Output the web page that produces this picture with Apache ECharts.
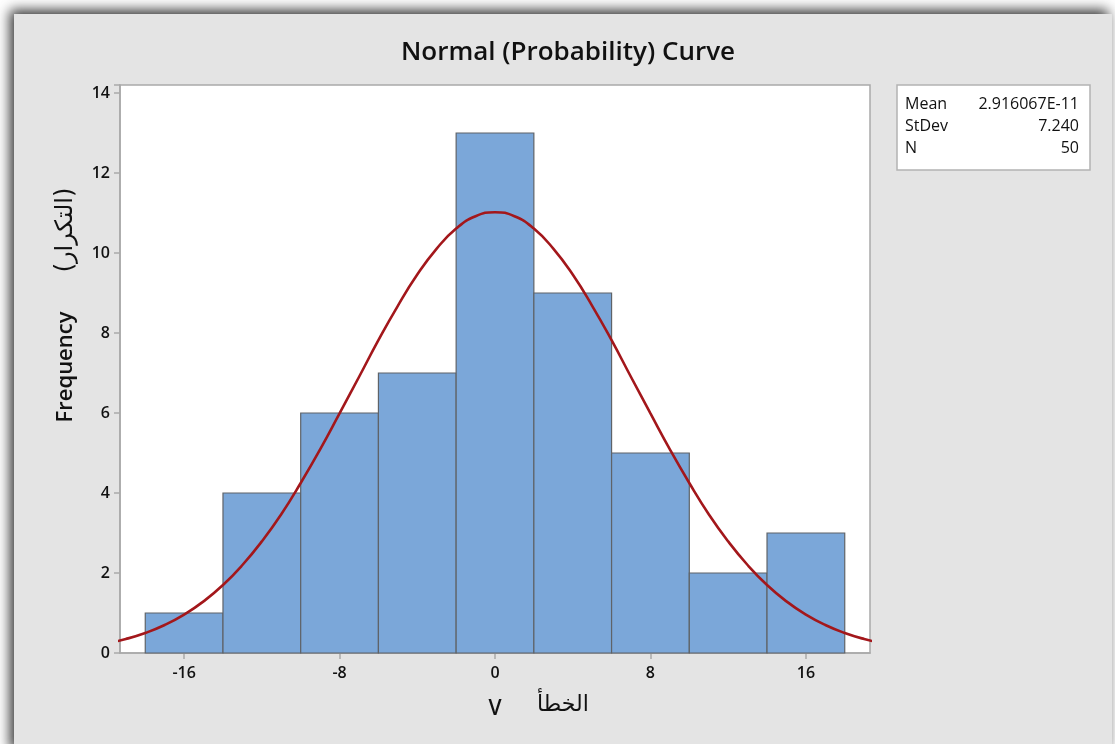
<!DOCTYPE html>
<html>
<head>
<meta charset="utf-8">
<script src="https://cdn.jsdelivr.net/npm/echarts@6/dist/echarts.min.js"></script>
<style>
  html, body { margin: 0; padding: 0; background: #ffffff; }
  #chart { width: 1115px; height: 744px; }
</style>
</head>
<body>
<div id="chart"></div>
<script>
// Histogram bins (centre of each bin, width 4) and their frequencies
const binCenters = [-16, -12, -8, -4, 0, 4, 8, 12, 16];
const binCounts = [1, 4, 6, 7, 13, 9, 5, 2, 3];
const binWidth = 4;

// Fitted normal curve, sampled at whole units of V
const curveX = [-20, -19, -18, -17, -16, -15, -14, -13, -12, -11, -10, -9, -8, -7, -6, -5, -4, -3, -2, -1,
  0, 1, 2, 3, 4, 5, 6, 7, 8, 9, 10, 11, 12, 13, 14, 15, 16, 17, 18, 19, 20];
const curveY = [0.24, 0.35, 0.50, 0.70, 0.96, 1.29, 1.70, 2.20, 2.79, 3.47, 4.25, 5.09, 5.99, 6.90, 7.82, 8.68, 9.46, 10.11, 10.61, 10.92,
  11.02, 10.92, 10.61, 10.11, 9.46, 8.68, 7.82, 6.90, 5.99, 5.09, 4.25, 3.47, 2.79, 2.20, 1.70, 1.29, 0.96, 0.70, 0.50, 0.35, 0.24];

// Axis tick labels
const xTicks = [-16, -8, 0, 8, 16];
const yTicks = [0, 2, 4, 6, 8, 10, 12, 14];

// Summary statistics box
const statNames = ['Mean', 'StDev', 'N'];
const statValues = ['2.916067E-11', '7.240', '50'];

const FONT = '"Open Sans", "Noto Sans", sans-serif';
const TXT = '#111111';
const FRAME = '#a9a9a9';

const chart = echarts.init(document.getElementById('chart'), null, { renderer: 'canvas' });

const histData = binCenters.map((c, i) => [c - binWidth / 2, c + binWidth / 2, binCounts[i]]);
const curveData = curveX.map((x, i) => [x, curveY[i]]);

const statGraphics = [];
statNames.forEach((n, i) => {
  statGraphics.push({
    type: 'text', x: 905, y: 104 + i * 22, z: 10,
    style: { text: n, font: '500 16px ' + FONT, fill: TXT, textVerticalAlign: 'middle' }
  });
  statGraphics.push({
    type: 'text', x: 1079, y: 104 + i * 22, z: 10,
    style: { text: statValues[i], font: '500 16px ' + FONT, fill: TXT, textAlign: 'right', textVerticalAlign: 'middle' }
  });
});

chart.setOption({
  animation: false,
  backgroundColor: '#ffffff',
  title: {
    text: 'Normal (Probability) Curve',
    left: 563, top: 35, textAlign: 'center',
    textStyle: { fontFamily: FONT, fontSize: 26, fontWeight: 600, color: TXT }
  },
  grid: {
    left: 120, top: 85, width: 750, height: 568,
    show: true, backgroundColor: '#ffffff', borderColor: FRAME, borderWidth: 1.5
  },
  xAxis: {
    type: 'value', min: -19.3, max: 19.3,
    axisLine: { show: true, onZero: false, lineStyle: { color: FRAME, width: 1.5 } },
    splitLine: { show: false },
    axisTick: { show: true, customValues: xTicks, length: 6, lineStyle: { color: FRAME, width: 1.5 } },
    axisLabel: { customValues: xTicks, margin: 12, fontFamily: FONT, fontSize: 16, fontWeight: 600, color: TXT }
  },
  yAxis: {
    type: 'value', min: 0, max: 14.2, interval: 2,
    axisLine: { show: true, onZero: false, lineStyle: { color: FRAME, width: 1.5 } },
    splitLine: { show: false },
    axisTick: { show: true, length: 6, lineStyle: { color: FRAME, width: 1.5 } },
    axisLabel: {
      margin: 10, fontFamily: FONT, fontSize: 16, fontWeight: 600, color: TXT,
      formatter: v => (yTicks.indexOf(v) >= 0 ? String(v) : '')
    }
  },
  graphic: [
    {
      type: 'rect', z: -10, silent: true,
      shape: { x: 14, y: 14, width: 1098, height: 740 },
      style: { fill: '#e4e4e4', shadowBlur: 12, shadowColor: 'rgba(0,0,0,0.8)', shadowOffsetX: -4, shadowOffsetY: -4 }
    },
    {
      type: 'rect', z: 5, silent: true,
      shape: { x: 897, y: 85, width: 193, height: 85 },
      style: { fill: '#ffffff', stroke: '#b3b3b3', lineWidth: 1.5 }
    },
    ...statGraphics,
    {
      type: 'text', x: 66, y: 367, rotation: Math.PI / 2, z: 10,
      style: { text: 'Frequency', font: '600 22px ' + FONT, fill: TXT, textAlign: 'center', textVerticalAlign: 'middle' }
    },
    {
      type: 'text', x: 66, y: 230, rotation: Math.PI / 2, z: 10,
      style: { text: '(التكرار)', font: '24px "DejaVu Sans", sans-serif', fill: TXT, textAlign: 'center', textVerticalAlign: 'middle' }
    },
    {
      type: 'text', x: 495, y: 709, z: 10,
      style: { text: 'V', font: '600 21px ' + FONT, fill: TXT, textAlign: 'center', textVerticalAlign: 'middle' }
    },
    {
      type: 'text', x: 563, y: 705, z: 10,
      style: { text: 'الخطأ', font: '22px "DejaVu Sans", sans-serif', fill: TXT, textAlign: 'center', textVerticalAlign: 'middle' }
    }
  ],
  series: [
    {
      type: 'custom',
      data: histData,
      encode: { x: [0, 1], y: 2 },
      renderItem: function (params, api) {
        const p0 = api.coord([api.value(0), api.value(2)]);
        const p1 = api.coord([api.value(1), 0]);
        return {
          type: 'rect',
          shape: { x: p0[0], y: p0[1], width: p1[0] - p0[0], height: p1[1] - p0[1] },
          style: { fill: '#7ba7d9', stroke: '#5f6368', lineWidth: 1.2 }
        };
      },
      z: 2
    },
    {
      type: 'line',
      data: curveData,
      smooth: true,
      showSymbol: false,
      clip: true,
      lineStyle: { color: '#a3171b', width: 2.6 },
      z: 3
    }
  ]
});
</script>
</body>
</html>
